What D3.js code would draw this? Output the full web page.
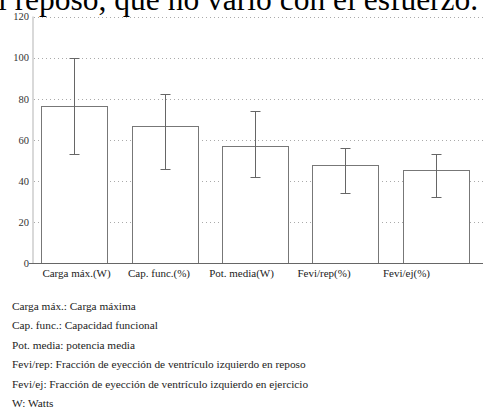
<!DOCTYPE html>
<html>
<head>
<meta charset="utf-8">
<script src="https://cdn.jsdelivr.net/npm/d3@7"></script>
<style>
  html, body { margin: 0; padding: 0; background: #fff; }
  svg { display: block; }
</style>
</head>
<body>
<svg id="chart" width="483" height="408"></svg>
<script>
// Categories and values (mean with lower/upper error limits)
const categories = ["Carga máx.(W)", "Cap. func.(%)", "Pot. media(W)", "Fevi/rep(%)", "Fevi/ej(%)"];
const means = [76.5, 66.5, 57, 47.5, 45.5];
const lows = [53, 46, 42, 34, 32];
const highs = [100, 82.5, 74, 56, 53];
const yTicks = [0, 20, 40, 60, 80, 100, 120];
const notes = [
  "Carga máx.: Carga máxima",
  "Cap. func.: Capacidad funcional",
  "Pot. media: potencia media",
  "Fevi/rep: Fracción de eyección de ventrículo izquierdo en reposo",
  "Fevi/ej: Fracción de eyección de ventrículo izquierdo en ejercicio",
  "W: Watts"
];
const headline = "l reposo, que no varió con el esfuerzo.";

const svg = d3.select("#chart");
const textFont = "'Liberation Serif', 'DejaVu Serif', serif";

// Sentence running above the figure
svg.append("text")
  .attr("x", -2).attr("y", 9.5)
  .attr("font-family", textFont)
  .attr("font-size", 31.5)
  .attr("fill", "#000")
  .text(headline);

const axisX = 33, baseY = 263, topY = 16.5;
const y = d3.scaleLinear().domain([0, 120]).range([baseY, topY]);
const x = d3.scaleBand().domain(categories).range([33, 477])
  .paddingInner(0.27).paddingOuter(0.09);
const xLabel = d3.scalePoint().domain(categories).range([76, 406]);

// Dotted grid lines
svg.append("g").selectAll("line")
  .data(yTicks.filter(t => t > 0))
  .join("line")
  .attr("x1", axisX + 1).attr("x2", 483)
  .attr("y1", d => Math.round(y(d)) + 0.5).attr("y2", d => Math.round(y(d)) + 0.5)
  .attr("stroke", "#aaa").attr("stroke-width", 1)
  .attr("stroke-dasharray", "1,3");

// Y axis
const yAxis = d3.axisLeft(y).tickValues(yTicks).tickSize(0).tickPadding(4);
const gy = svg.append("g").attr("transform", `translate(${axisX},0)`).call(yAxis);
gy.select(".domain").attr("stroke", "#ccc").attr("stroke-width", 1.5)
  .attr("d", `M0,${topY}V${baseY}`);
gy.selectAll("text").attr("font-family", textFont).attr("font-size", 10.5).attr("fill", "#333");

// Bars
svg.append("g").selectAll("rect")
  .data(categories)
  .join("rect")
  .attr("x", d => Math.round(x(d)) + 0.5)
  .attr("y", (d, i) => Math.round(y(means[i])) + 0.5)
  .attr("width", Math.round(x.bandwidth()))
  .attr("height", (d, i) => baseY - Math.round(y(means[i])))
  .attr("fill", "#fff")
  .attr("stroke", "#777").attr("stroke-width", 1);

// Error bars
const eb = svg.append("g").attr("stroke", "#666").attr("stroke-width", 1);
categories.forEach((c, i) => {
  const cx = Math.round(x(c) + x.bandwidth() / 2) + 0.5;
  const yh = Math.round(y(highs[i])) + 0.5, yl = Math.round(y(lows[i])) + 0.5;
  eb.append("line").attr("x1", cx).attr("x2", cx).attr("y1", yh).attr("y2", yl);
  eb.append("line").attr("x1", cx - 5).attr("x2", cx + 5).attr("y1", yh).attr("y2", yh);
  eb.append("line").attr("x1", cx - 5).attr("x2", cx + 5).attr("y1", yl).attr("y2", yl);
});

// X axis baseline
svg.append("line")
  .attr("x1", 29).attr("x2", 483)
  .attr("y1", baseY + 0.5).attr("y2", baseY + 0.5)
  .attr("stroke", "#666").attr("stroke-width", 1);

// Category labels
const xAxis = d3.axisBottom(xLabel).tickSize(0).tickPadding(6);
const gx = svg.append("g").attr("transform", `translate(0,${baseY})`).call(xAxis);
gx.select(".domain").remove();
gx.selectAll("text").attr("font-family", textFont).attr("font-size", 11).attr("fill", "#222");

// Abbreviation notes
svg.append("g").selectAll("text")
  .data(notes)
  .join("text")
  .attr("x", 12)
  .attr("y", (d, i) => 309.5 + i * 19.5)
  .attr("font-family", textFont)
  .attr("font-size", 11.3)
  .attr("fill", "#222")
  .text(d => d);
</script>
</body>
</html>
